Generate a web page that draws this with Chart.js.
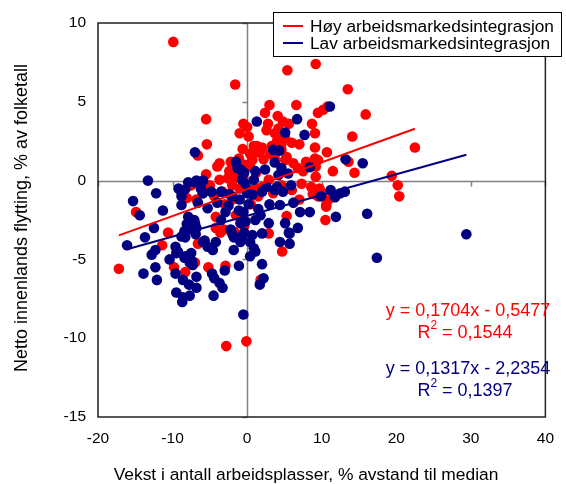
<!DOCTYPE html>
<html lang="no">
<head>
<meta charset="UTF-8">
<title>Netto innenlands flytting vs vekst i arbeidsplasser</title>
<script src="https://cdn.jsdelivr.net/npm/chart.js@4"></script>
<style>
body{margin:0;background:#fff}
#wrap{width:566px;height:484px;position:relative}
</style>
</head>
<body>
<div id="wrap"><canvas id="c"></canvas></div>
<script>
// series: [x, y] = [vekst i arbeidsplasser, netto flytting]
const HOY_LABEL="Høy arbeidsmarkedsintegrasjon", LAV_LABEL="Lav arbeidsmarkedsintegrasjon";
const hoyPts=[
 [-9.9,8.8],[-1.6,6.1],[-5.5,3.9],[-0.5,3.6],[-1.0,3.0],[0.2,2.8],[-5.4,2.3],[-6.6,1.6],[-4.0,0.9],[-3.7,1.1],
 [-5.5,0.4],[5.4,7.0],[9.2,7.4],[13.5,5.8],[15.9,4.2],[14.1,2.8],[10.8,4.7],[10.2,4.5],[9.5,4.3],[6.6,4.8],
 [3.0,4.8],[2.4,4.3],[4.1,4.1],[5.6,3.6],[8.7,3.6],[9.1,3.0],[4.2,3.3],[2.8,3.6],[4.3,2.6],[4.1,2.3],
 [6.0,2.4],[7.0,2.3],[9.1,2.1],[9.1,1.4],[10.7,1.8],[1.3,2.2],[1.7,1.8],[0.9,1.95],[3.1,1.7],[4.6,1.95],
 [5.3,1.5],[11.5,0.6],[13.6,1.2],[20.2,-0.3],[19.4,0.3],[22.5,2.1],[14.4,0.5],[20.4,-1.0],[10.9,-1.2],[10.6,-1.65],
 [10.5,-2.5],[9.7,-0.5],[9.5,-1.0],[8.8,-0.85],[4.7,-4.5],[1.8,-6.3],[-0.1,-10.2],[-2.8,-10.5],[-14.9,-2.0],[-10.6,-3.3],
 [-11.4,-4.1],[-17.2,-5.6],[-9.8,-5.5],[-8.3,-5.8],[-7.0,-5.2],[-5.2,-5.5],[-2.9,-5.4],[-6.6,-4.0],[-4.2,-3.0],[-3.6,-3.3],
 [-2.2,1.2],[-2.4,0.6],[-1.3,0.5],[-3.7,0.05],[-2.6,0.15],[4.8,3.75],[2.6,3.2],[3.7,3.0],[5.1,2.7],[0.0,3.4],
 [4.0,2.5],[4.6,2.3],[3.3,2.2],[2.0,2.1],[1.1,2.1],[9.5,1.3],[7.9,1.2],[9.2,0.9],[0.4,1.7],[1.3,1.8],
 [2.2,1.35],[0.7,1.3],[3.7,1.4],[5.1,1.3],[6.2,1.1],[6.8,0.8],[7.5,0.6],[9.2,0.25],[2.9,0.05],[2.0,-0.4],
 [4.6,-0.3],[7.3,-0.2],[8.6,-0.4],[9.9,-0.7],[10.6,-1.55],[5.3,-2.25],[2.9,-3.35],[-6.8,-1.2],[-8.1,-1.1],[-4.2,-2.3],
 [-3.1,-3.1],[-1.75,-3.25],[-0.4,-2.9],[-4.4,-1.0],[-3.3,-0.7],[-1.1,1.4],[0.4,0.9],[0.9,2.2],[-0.3,1.0],[-0.6,2.0],
 [1.2,0.5],[-1.8,0.1],[-2.0,-0.3],[-1.0,-0.5],[-0.5,0.2],[-3.0,-1.5],[-2.0,-1.2],[-1.5,-2.2],[-5.0,-0.3],[-6.0,-0.8],
 [-7.5,-0.3],[1.0,-0.5],[0.5,-1.5],[1.5,-1.0],[3.5,-0.8],[6.0,-0.6],[7.0,-1.2]
];
const lavPts=[
 [11.1,4.7],[1.3,3.75],[6.7,3.9],[5.1,3.05],[7.7,2.9],[3.5,1.95],[4.3,1.9],[8.4,0.85],[13.2,1.35],[3.7,1.15],
 [2.4,0.7],[1.1,0.6],[4.6,0.8],[4.2,0.35],[5.5,0.45],[-0.7,0.6],[-0.2,-0.2],[0.9,0.05],[2.6,-0.4],[4.0,-0.4],
 [5.9,-0.3],[4.8,-0.7],[11.2,-0.6],[12.5,-0.8],[15.5,1.1],[11.8,-1.05],[13.1,-0.7],[16.1,-2.1],[11.9,-2.3],[29.4,-3.4],
 [17.4,-4.9],[7.1,-2.0],[8.4,-2.0],[6.8,-3.0],[5.6,-3.3],[5.7,-4.0],[4.4,-3.9],[2.0,-5.3],[2.2,-6.2],[1.7,-6.6],
 [-0.5,-8.5],[0.9,-4.3],[0.4,-4.8],[-1.1,-5.4],[0.7,-0.9],[2.0,-0.7],[3.7,-0.6],[4.4,-1.55],[6.2,-1.4],[9.9,-1.0],
 [-0.2,-2.6],[1.1,-2.5],[2.9,-2.7],[5.1,-2.7],[5.7,-3.35],[2.0,-3.35],[0.7,-3.45],[-0.7,-3.55],[1.1,-4.5],[-13.3,0.0],
 [-12.2,-0.8],[-15.3,-1.3],[-14.4,-2.2],[-11.3,-1.9],[-12.5,-3.0],[-13.7,-3.6],[-16.1,-4.1],[-12.8,-4.7],[-12.3,-4.4],[-13.9,-5.9],
 [-12.3,-5.5],[-12.1,-6.3],[-10.4,-5.0],[-9.6,-5.9],[-8.4,-4.9],[-7.5,-4.6],[-7.7,-5.2],[-6.8,-6.1],[-8.6,-6.3],[-7.8,-6.6],
 [-6.8,-6.8],[-9.5,-7.1],[-8.7,-7.7],[-7.7,-7.3],[-3.0,-5.7],[-4.7,-5.9],[-4.4,-6.2],[-3.7,-6.5],[-3.3,-6.8],[-4.5,-7.3],
 [-9.6,-4.2],[-9.3,-4.5],[-8.3,-4.8],[-7.4,-5.1],[-8.4,-3.2],[-8.3,-3.6],[-6.9,-3.4],[-6.8,-3.0],[-8.1,-2.75],[-7.1,-2.5],
 [-7.9,-2.3],[-5.7,-3.8],[-5.3,-4.2],[-4.6,-4.4],[-4.2,-3.9],[-1.8,-4.4],[-0.9,-3.9],[-1.8,-3.6],[-2.2,-3.1],[-0.4,-3.3],
 [0.4,-3.9],[-7.0,1.8],[-1.5,1.2],[-0.9,0.7],[-0.4,0.5],[-7.9,-0.1],[-7.0,-0.1],[-5.9,0.0],[-9.2,-0.5],[-1.3,0.8],
 [-0.7,0.05],[-6.8,0.0],[-9.0,-0.6],[-8.3,-0.55],[-6.2,-0.5],[-4.8,-0.7],[-3.5,-0.7],[-2.4,-0.85],[-9.5,-4.6],[-8.6,-7.4],
 [-7.3,-5.35],[-8.8,-3.55],[-7.9,-3.1],[-7.0,-2.7],[-5.9,-3.9],[-2.0,-3.35],[-0.9,-2.7],[-1.1,-1.9],[-2.9,-2.0],[-4.0,-1.4],
 [-5.3,-1.75],[-6.6,-1.4],[-8.8,-1.55],[-8.8,-1.0],[-5.9,-0.8],[-2.0,-1.0],[-1.0,-1.2],[0.2,-1.5],[-0.5,-2.0],[1.5,-1.8],
 [-3.5,-2.5],[-2.5,-1.6],[0.0,-0.8],[1.8,-2.2],[3.0,-1.5]
];
// trendlines as shown on the chart
const hoyTrend={slope:0.1704,icpt:-0.5477,eq:"y = 0,1704x - 0,5477",r2:"0,1544"};
const lavTrend={slope:0.1317,icpt:-2.2354,eq:"y = 0,1317x - 2,2354",r2:"0,1397"};
const X_MIN=-20,X_MAX=40,X_STEP=10, Y_MIN=-15,Y_MAX=10,Y_STEP=5;
const X_TITLE="Vekst i antall arbeidsplasser, % avstand til median";
const Y_TITLE="Netto innenlands flytting, % av folketall";
const RED="#ff0000", BLUE="#000080";
const FONT="'Liberation Sans', Arial, sans-serif";

const toXY=a=>a.map(([x,y])=>({x,y}));
function trendLine(pts,t){
  const xs=pts.map(p=>p[0]);
  const lo=Math.min(...xs), hi=Math.max(...xs);
  return [{x:lo,y:t.slope*lo+t.icpt},{x:hi,y:t.slope*hi+t.icpt}];
}

const decor={
  id:'decor',
  beforeDatasetsDraw(c){
    const {ctx,chartArea:a,scales:{x,y}}=c;
    ctx.save();
    ctx.strokeStyle='#808080';ctx.lineWidth=1.5;
    const x0=Math.round(x.getPixelForValue(0))+.5, y0=Math.round(y.getPixelForValue(0))+.5;
    ctx.beginPath();
    ctx.moveTo(x0,a.top);ctx.lineTo(x0,a.bottom);
    ctx.moveTo(a.left,y0);ctx.lineTo(a.right,y0);
    x.ticks.forEach(t=>{const p=Math.round(x.getPixelForValue(t.value))+.5;ctx.moveTo(p,y0);ctx.lineTo(p,y0+5);});
    y.ticks.forEach(t=>{const p=Math.round(y.getPixelForValue(t.value))+.5;ctx.moveTo(x0-5,p);ctx.lineTo(x0,p);});
    ctx.stroke();
    ctx.strokeStyle='#222';ctx.lineWidth=1.5;
    ctx.strokeRect(a.left,a.top,a.right-a.left,a.bottom-a.top);
    ctx.restore();
  },
  afterDraw(c){
    const {ctx}=c;
    ctx.save();
    // axis titles
    ctx.fillStyle='#000';ctx.textAlign='center';ctx.textBaseline='middle';
    ctx.font='17.4px '+FONT;
    ctx.fillText(X_TITLE,306,475);
    ctx.font='18px '+FONT;
    ctx.translate(22,218);ctx.rotate(-Math.PI/2);ctx.fillText(Y_TITLE,0,0);
    ctx.setTransform(1,0,0,1,0,0);
    // legend
    ctx.fillStyle='#fff';ctx.fillRect(273,12,289,45);
    ctx.strokeStyle='#000';ctx.lineWidth=1;ctx.strokeRect(273.5,12.5,288,44);
    c.data.datasets.filter(d=>d.type==='line').forEach((d,i)=>{
      const yy=26+i*17;
      ctx.strokeStyle=d.borderColor;ctx.lineWidth=2;
      ctx.beginPath();ctx.moveTo(283,yy);ctx.lineTo(303,yy);ctx.stroke();
      ctx.fillStyle='#000';ctx.textAlign='left';ctx.font='17.3px '+FONT;
      ctx.fillText(d.label,310,yy+1);
    });
    // equations
    const eq=(t,col,cy)=>{
      ctx.fillStyle=col;ctx.font='18px '+FONT;ctx.textAlign='center';
      ctx.fillText(t.eq,468,cy);
      const rest=" = "+t.r2;
      const wR=ctx.measureText("R").width, wRest=ctx.measureText(rest).width;
      ctx.font='12px '+FONT;const w2=ctx.measureText("2").width;
      let sx=465-(wR+w2+wRest)/2;
      ctx.textAlign='left';ctx.font='18px '+FONT;ctx.fillText("R",sx,cy+22);
      ctx.font='12px '+FONT;ctx.fillText("2",sx+wR,cy+15);
      ctx.font='18px '+FONT;ctx.fillText(rest,sx+wR+w2,cy+22);
    };
    eq(hoyTrend,RED,311);
    eq(lavTrend,BLUE,369);
    ctx.restore();
  }
};

new Chart(document.getElementById('c'),{
  type:'scatter',
  data:{datasets:[
    {label:HOY_LABEL,data:toXY(hoyPts),backgroundColor:RED,borderColor:RED,pointRadius:5.3,pointBorderWidth:0,order:4},
    {label:LAV_LABEL,data:toXY(lavPts),backgroundColor:BLUE,borderColor:BLUE,pointRadius:5.3,pointBorderWidth:0,order:3},
    {type:'line',label:HOY_LABEL,data:trendLine(hoyPts,hoyTrend),borderColor:RED,borderWidth:2,pointRadius:0,fill:false,order:2},
    {type:'line',label:LAV_LABEL,data:trendLine(lavPts,lavTrend),borderColor:BLUE,borderWidth:2,pointRadius:0,fill:false,order:1}
  ]},
  options:{
    responsive:true,maintainAspectRatio:false,animation:false,
    layout:{padding:{top:23,right:13,left:0,bottom:0}},
    plugins:{legend:{display:false},tooltip:{enabled:false}},
    scales:{
      x:{type:'linear',min:X_MIN,max:X_MAX,
         ticks:{stepSize:X_STEP,color:'#000',font:{family:FONT,size:15.5},padding:12,maxRotation:0},
         grid:{display:false,drawTicks:false},border:{display:false},
         afterFit:s=>{s.height=67;}},
      y:{type:'linear',min:Y_MIN,max:Y_MAX,
         ticks:{stepSize:Y_STEP,color:'#000',font:{family:FONT,size:15.5},padding:12},
         grid:{display:false,drawTicks:false},border:{display:false},
         afterFit:s=>{s.width=98;}}
    }
  },
  plugins:[decor]
});
</script>
</body>
</html>
